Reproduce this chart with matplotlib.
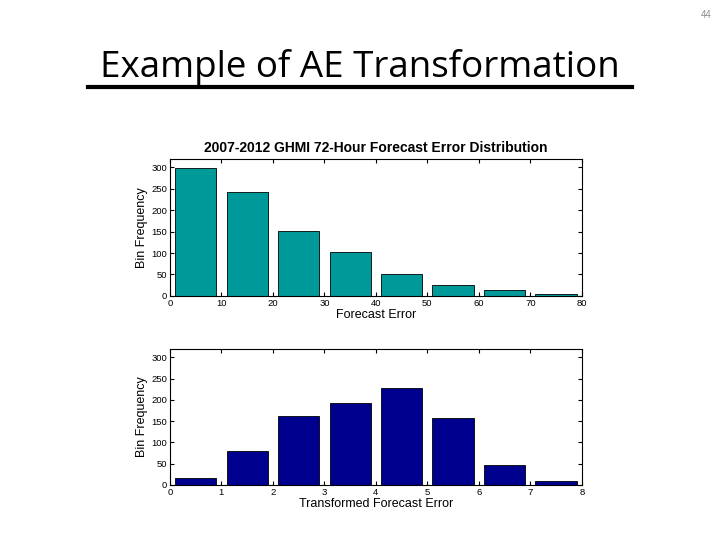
import matplotlib
matplotlib.use("Agg")
import matplotlib.pyplot as plt
import numpy as np

# bin edges and counts
raw_edges = [0, 10, 20, 30, 40, 50, 60, 70]
raw_counts = [298, 243, 151, 103, 51, 25, 13, 5]
trans_edges = [0, 1, 2, 3, 4, 5, 6, 7]
trans_counts = [16, 79, 163, 193, 229, 157, 46, 9]

raw_ticks = [0, 10, 20, 30, 40, 50, 60, 70, 80]
trans_ticks = [0, 1, 2, 3, 4, 5, 6, 7, 8]
y_ticks = [0, 50, 100, 150, 200, 250, 300]

plt.rcParams['font.family'] = ['Liberation Sans', 'DejaVu Sans']

fig = plt.figure(figsize=(7.2, 5.4), dpi=100)

# slide heading
fig.text(0.5, 0.858, "Example of AE Transformation", ha='center', va='baseline',
         fontsize=26.5, family=['Open Sans', 'DejaVu Sans'], color='black')
fig.add_artist(plt.Line2D([0.122, 0.878], [0.839, 0.839], color='black', lw=3))
fig.text(0.981, 0.972, "44", ha='center', va='center', fontsize=7, color='#8c8c8c')


def style(ax, ticks, xmax):
    ax.set_xlim(0, xmax)
    ax.set_ylim(0, 320)
    ax.set_xticks(ticks)
    ax.set_yticks(y_ticks)
    ax.tick_params(direction='in', top=True, right=True, labelsize=6.8, length=3, pad=2)
    for s in ax.spines.values():
        s.set_linewidth(0.8)
    ax.set_ylabel("Bin Frequency", fontsize=9, labelpad=2)


ax1 = fig.add_axes([0.236, 0.452, 0.572, 0.254])
w = raw_edges[1] - raw_edges[0]
ax1.bar(np.array(raw_edges) + w / 2, raw_counts, width=0.8 * w,
        color='#009999', edgecolor='black', linewidth=0.6)
style(ax1, raw_ticks, 80)
ax1.set_xlabel("Forecast Error", fontsize=9, labelpad=1)
ax1.set_title("2007-2012 GHMI 72-Hour Forecast Error Distribution",
              fontsize=10, fontweight='bold', pad=5)

ax2 = fig.add_axes([0.236, 0.102, 0.572, 0.252])
w = trans_edges[1] - trans_edges[0]
ax2.bar(np.array(trans_edges) + w / 2, trans_counts, width=0.8 * w,
        color='#00008f', edgecolor='black', linewidth=0.6)
style(ax2, trans_ticks, 8)
ax2.set_xlabel("Transformed Forecast Error", fontsize=9, labelpad=1)

fig.savefig("out.png", dpi=100)
